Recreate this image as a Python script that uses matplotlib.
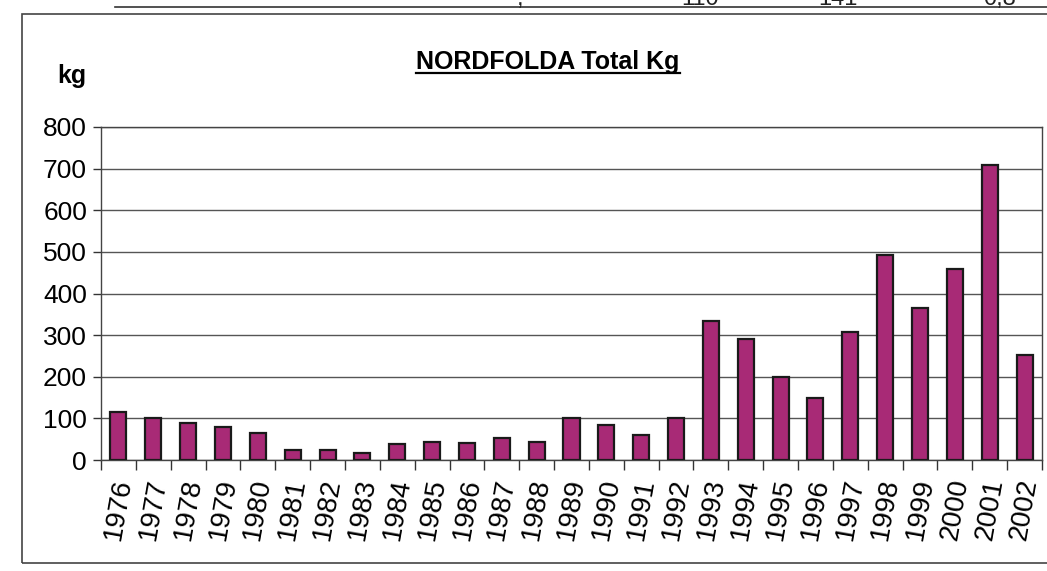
import numpy as np
import matplotlib.pyplot as plt
from matplotlib.lines import Line2D
from matplotlib.patches import Rectangle

plt.rcParams['font.family'] = ['Liberation Sans', 'DejaVu Sans']

# data
years = [str(y) for y in range(1976, 2003)]
kg = [116, 100, 89, 79, 64, 25, 25, 17, 39, 44, 42, 52, 44,
      100, 83, 59, 101, 335, 290, 200, 150, 307, 493, 366, 458, 709, 253]
yticks = [0, 100, 200, 300, 400, 500, 600, 700, 800]

W, H = 1047, 571
fig = plt.figure(figsize=(W / 100, H / 100), dpi=100)

def fx(px):
    return px / W

def fy(py):
    return 1 - py / H

# outer chart frame
fig.patches.append(Rectangle((fx(22), fy(563)), 1.2, fy(14) - fy(563),
                             transform=fig.transFigure, fill=False,
                             edgecolor='#444444', linewidth=1.2))
# bits of the table above, cut off by the scan
fig.add_artist(Line2D([fx(115), 1.0], [fy(7), fy(7)], transform=fig.transFigure,
                      color='#333333', linewidth=1.2))
for x, s in [(520, ','), (700, '110'), (838, '141'), (1000, '0,8')]:
    fig.text(fx(x), fy(5), s, fontsize=17, ha='center', va='baseline', color='#222222')

ax = fig.add_axes([fx(101), fy(460), fx(1042) - fx(101), fy(127) - fy(460)])
pos = np.arange(len(years))
ax.bar(pos, kg, width=0.46, color='#A82A76', edgecolor='#1a1a1a', linewidth=1.6, zorder=3)

ax.set_xlim(-0.5, len(years) - 0.5)
ax.set_ylim(0, 800)
ax.set_yticks(yticks)
ax.set_yticklabels([str(v) for v in yticks], fontsize=19)
ax.yaxis.grid(True, color='#555555', linewidth=1.0, zorder=0)
ax.set_xticks(pos)
ax.set_xticklabels(years, rotation=80, fontsize=20, ha='center', va='top')
ax.set_xticks(np.arange(-0.5, len(years)), minor=True)
ax.tick_params(axis='x', which='major', length=0, pad=12)
ax.tick_params(axis='x', which='minor', length=7, width=1, color='#333333', direction='out')
ax.tick_params(axis='y', length=6, width=1, color='#333333', direction='out', pad=4)
for s in ax.spines.values():
    s.set_color('#444444')
    s.set_linewidth(1.0)

fig.text(fx(72), fy(76), 'kg', fontsize=18, fontweight='bold', ha='center', va='center')
title = fig.text(fx(548), fy(62), 'NORDFOLDA Total Kg', fontsize=18, fontweight='bold',
                 ha='center', va='center')

# underline the title
fig.canvas.draw()
bb = title.get_window_extent().transformed(fig.transFigure.inverted())
fig.add_artist(Line2D([bb.x0, bb.x1], [bb.y0 + 0.002, bb.y0 + 0.002],
                      transform=fig.transFigure, color='black', linewidth=1.6))

fig.savefig('out.png', dpi=100)
